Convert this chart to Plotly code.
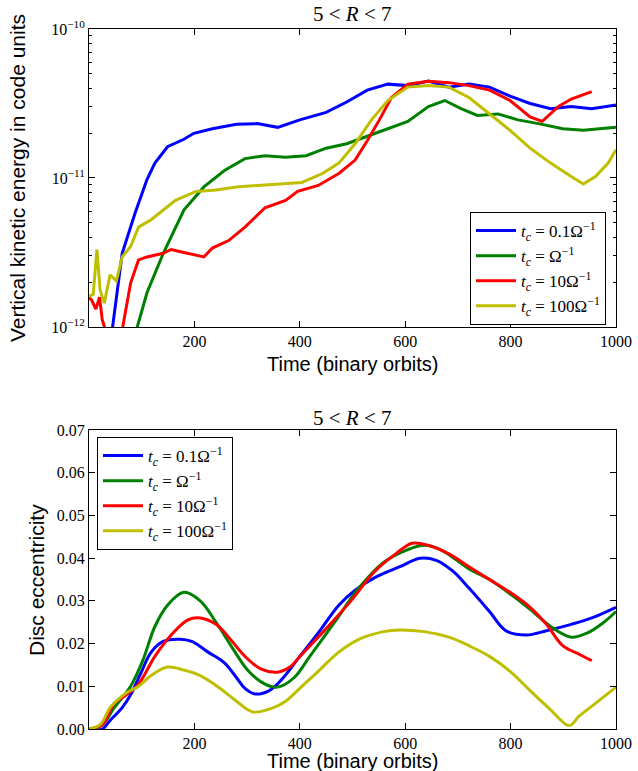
import plotly.graph_objects as go

# ---------- top panel: vertical kinetic energy (log10 values) ----------
ke_blue_t = [44, 63, 87, 110, 125, 149, 180, 199, 234, 280, 319, 358, 400, 450, 489, 528, 567, 605, 644, 683, 721, 760, 799, 837, 876, 915, 954, 1000]
ke_blue_l = [-12.02, -11.505, -11.24, -11.01, -10.90, -10.79, -10.74, -10.70, -10.67, -10.64, -10.635, -10.66, -10.61, -10.56, -10.49, -10.41, -10.37, -10.38, -10.35, -10.39, -10.37, -10.39, -10.45, -10.50, -10.535, -10.52, -10.535, -10.51]

ke_green_t = [90, 110, 141, 180, 218, 257, 296, 334, 373, 412, 450, 489, 528, 567, 605, 644, 675, 706, 737, 776, 814, 853, 899, 938, 1000]
ke_green_l = [-12.02, -11.77, -11.505, -11.215, -11.06, -10.95, -10.87, -10.85, -10.86, -10.85, -10.80, -10.77, -10.72, -10.67, -10.62, -10.52, -10.48, -10.535, -10.58, -10.57, -10.61, -10.635, -10.67, -10.68, -10.66]

ke_red_t = [0, 5, 13, 20, 25, 32, None, 63, 79, 94, 110, 141, 156, 180, 218, 234, 265, 296, 334, 373, 396, 435, 474, 505, 528, 551, 574, 605, 644, 683, 721, 760, 799, 837, 860, 891, 915, 954]
ke_red_l = [-11.80, -11.82, -11.88, -11.80, -11.95, -12.03, None, -12.02, -11.705, -11.55, -11.53, -11.505, -11.48, -11.50, -11.53, -11.47, -11.42, -11.33, -11.20, -11.15, -11.09, -11.05, -10.97, -10.88, -10.75, -10.61, -10.46, -10.37, -10.35, -10.36, -10.38, -10.41, -10.48, -10.59, -10.62, -10.52, -10.47, -10.42]

ke_yell_t = [0, 8, 15, 21, 29, 40, 52, 63, 79, 94, 118, 141, 164, 203, 241, 280, 319, 358, 404, 443, 474, 505, 536, 567, 605, 644, 683, 721, 760, 799, 837, 876, 915, 938, 961, 985, 1000]
ke_yell_l = [-11.795, -11.78, -11.48, -11.75, -11.84, -11.65, -11.69, -11.53, -11.46, -11.33, -11.28, -11.215, -11.15, -11.09, -11.08, -11.06, -11.05, -11.04, -11.03, -10.97, -10.90, -10.77, -10.61, -10.48, -10.39, -10.38, -10.39, -10.46, -10.57, -10.68, -10.80, -10.90, -10.99, -11.04, -10.99, -10.90, -10.81]

# ---------- bottom panel: disc eccentricity ----------
ec_blue_t = [0, 25, 40, 63, 79, 98, 118, 141, 172, 195, 226, 257, 280, 296, 315, 342, 365, 400, 435, 474, 505, 543, 590, 628, 659, 690, 721, 760, 791, 830, 868, 915, 954, 1000]
ec_blue_v = [0.0, 0.0, 0.002, 0.005, 0.008, 0.013, 0.018, 0.0205, 0.021, 0.0205, 0.018, 0.0155, 0.012, 0.0095, 0.0082, 0.009, 0.0115, 0.017, 0.0225, 0.029, 0.0325, 0.0355, 0.038, 0.040, 0.0395, 0.037, 0.033, 0.0275, 0.023, 0.022, 0.023, 0.0245, 0.026, 0.0285]

ec_green_t = [0, 25, 48, 79, 102, 125, 149, 180, 211, 241, 272, 303, 334, 358, 389, 419, 466, 512, 559, 605, 636, 667, 721, 760, 806, 837, 876, 915, 946, 977, 1000]
ec_green_v = [0.0, 0.001, 0.005, 0.010, 0.016, 0.024, 0.029, 0.032, 0.030, 0.025, 0.019, 0.0135, 0.0105, 0.0098, 0.012, 0.017, 0.025, 0.033, 0.039, 0.042, 0.043, 0.042, 0.0375, 0.035, 0.031, 0.028, 0.024, 0.0215, 0.0225, 0.025, 0.0275]

ec_red_t = [0, 25, 48, 71, 94, 125, 156, 187, 211, 241, 265, 296, 327, 358, 381, 404, 450, 497, 543, 582, 613, 644, 683, 721, 760, 799, 837, 868, 899, 930, 954]
ec_red_v = [0.0, 0.001, 0.006, 0.008, 0.0105, 0.017, 0.022, 0.0255, 0.026, 0.0245, 0.0215, 0.017, 0.014, 0.0133, 0.0145, 0.0175, 0.0235, 0.030, 0.037, 0.041, 0.0435, 0.043, 0.041, 0.038, 0.035, 0.032, 0.0285, 0.0245, 0.0195, 0.0175, 0.016]

ec_yell_t = [0, 21, 40, 56, 71, 94, 118, 149, 180, 211, 249, 280, 311, 350, 373, 404, 435, 474, 512, 559, 590, 636, 683, 721, 760, 799, 837, 876, 911, 930, 961, 1000]
ec_yell_v = [0.0, 0.001, 0.005, 0.007, 0.0085, 0.010, 0.0125, 0.0145, 0.0138, 0.0125, 0.0095, 0.0065, 0.004, 0.005, 0.0065, 0.010, 0.0135, 0.018, 0.021, 0.0228, 0.0232, 0.0228, 0.0215, 0.0195, 0.017, 0.0135, 0.009, 0.0045, 0.0008, 0.003, 0.006, 0.0098]

names = ["<i>t</i><sub><i>c</i></sub> = 0.1Ω<sup>−1</sup>",
         "<i>t</i><sub><i>c</i></sub> = Ω<sup>−1</sup>",
         "<i>t</i><sub><i>c</i></sub> = 10Ω<sup>−1</sup>",
         "<i>t</i><sub><i>c</i></sub> = 100Ω<sup>−1</sup>"]
colors = ["#0000ff", "#008000", "#ff0000", "#bfbf00"]

x_ticks = [200, 400, 600, 800, 1000]
ke_tickvals = [1e-12, 1e-11, 1e-10]
ke_ticktext = ["10<sup>−12</sup>", "10<sup>−11</sup>", "10<sup>−10</sup>"]
ec_ticks = [0.0, 0.01, 0.02, 0.03, 0.04, 0.05, 0.06, 0.07]

title_text = "5 &lt; <i>R</i> &lt; 7"
xlabel = "Time (binary orbits)"
ylabel_top = "Vertical kinetic energy in code units"
ylabel_bot = "Disc eccentricity"

fig = go.Figure()

top_sets = [(ke_blue_t, ke_blue_l), (ke_green_t, ke_green_l), (ke_red_t, ke_red_l), (ke_yell_t, ke_yell_l)]
for (t, l), nm, c in zip(top_sets, names, colors):
    y = [None if v is None else 10 ** v for v in l]
    fig.add_trace(go.Scatter(x=t, y=y, mode="lines", name=nm, line=dict(color=c, width=3),
                             xaxis="x", yaxis="y", legend="legend", connectgaps=False))

bot_sets = [(ec_blue_t, ec_blue_v), (ec_green_t, ec_green_v), (ec_red_t, ec_red_v), (ec_yell_t, ec_yell_v)]
for (t, v), nm, c in zip(bot_sets, names, colors):
    fig.add_trace(go.Scatter(x=t, y=v, mode="lines", name=nm, line=dict(color=c, width=3, shape="spline"),
                             xaxis="x2", yaxis="y2", legend="legend2"))

serif = "Liberation Serif"
sans = "Liberation Sans"
tickfont = dict(family=serif, size=16, color="black")
axcommon = dict(showline=True, linecolor="black", linewidth=1, mirror="ticks", ticks="inside",
                ticklen=6, tickcolor="black", showgrid=False, zeroline=False, tickfont=tickfont,
                automargin=False)

minor_log = []
for d in [1e-12, 1e-11]:
    for k in range(2, 10):
        minor_log.append(k * d)

# plot area spans pixel rows 29..729 and columns 89..616
def py(px):
    return (729.0 - px) / 700.0

def px_(x):
    return (x - 89.0) / 527.0

fig.update_layout(
    width=638, height=771,
    paper_bgcolor="white", plot_bgcolor="white",
    margin=dict(l=89, r=22, t=29, b=42, autoexpand=False),
    showlegend=True,
    xaxis=dict(domain=[0, 1], range=[0, 1000], anchor="y", tickvals=x_ticks, **axcommon),
    yaxis=dict(domain=[0.5743, 1], type="log", range=[-12, -10], anchor="x",
               tickvals=ke_tickvals, ticktext=ke_ticktext,
               minor=dict(tickvals=minor_log, ticks="inside", ticklen=3, tickcolor="black"),
               **axcommon),
    xaxis2=dict(domain=[0, 1], range=[0, 1000], anchor="y2", tickvals=x_ticks, **axcommon),
    yaxis2=dict(domain=[0, 0.4271], range=[0, 0.07], anchor="x2", tickvals=ec_ticks, tickformat=".2f",
                **axcommon),
    legend=dict(x=px_(470), y=py(212), xanchor="left", yanchor="top", bgcolor="white",
                bordercolor="black", borderwidth=1, font=dict(family=serif, size=17, color="black"),
                itemwidth=40),
    legend2=dict(x=px_(97), y=py(437), xanchor="left", yanchor="top", bgcolor="white",
                 bordercolor="black", borderwidth=1, font=dict(family=serif, size=17, color="black"),
                 itemwidth=40),
    annotations=[
        dict(text=title_text, x=0.5, y=py(14), xref="paper", yref="paper", xanchor="center",
             yanchor="middle", showarrow=False, font=dict(family=serif, size=21, color="black")),
        dict(text=title_text, x=0.5, y=py(418), xref="paper", yref="paper", xanchor="center",
             yanchor="middle", showarrow=False, font=dict(family=serif, size=21, color="black")),
        dict(text=xlabel, x=0.5, y=py(364), xref="paper", yref="paper", xanchor="center",
             yanchor="middle", showarrow=False, font=dict(family=sans, size=20, color="black")),
        dict(text=xlabel, x=0.5, y=py(761), xref="paper", yref="paper", xanchor="center",
             yanchor="middle", showarrow=False, font=dict(family=sans, size=20, color="black")),
        dict(text=ylabel_top, x=px_(17), y=py(178), xref="paper", yref="paper", xanchor="center",
             yanchor="middle", textangle=-90, showarrow=False, font=dict(family=sans, size=21, color="black")),
        dict(text=ylabel_bot, x=px_(36), y=py(580), xref="paper", yref="paper", xanchor="center",
             yanchor="middle", textangle=-90, showarrow=False, font=dict(family=sans, size=21, color="black")),
    ],
)

fig.write_html("out.html", config={"displayModeBar": False},
               post_script="document.body.style.margin='0';document.body.style.overflow='hidden';")
